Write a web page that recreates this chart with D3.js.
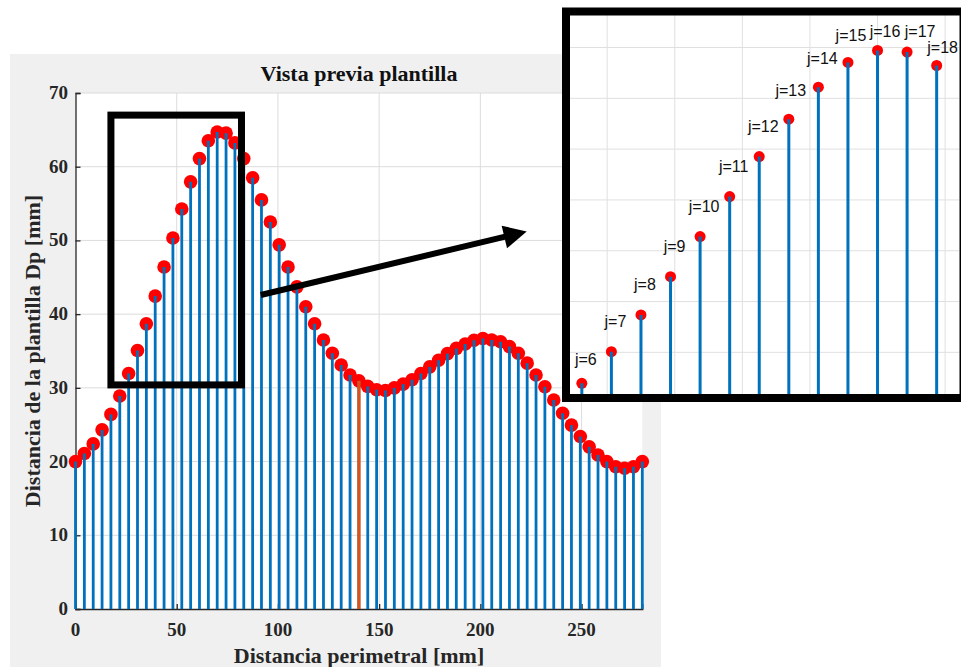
<!DOCTYPE html>
<html>
<head>
<meta charset="utf-8">
<script src="https://cdn.jsdelivr.net/npm/d3@7"></script>
<style>
	body { margin: 0; background: #fff; }
	svg { display: block; }
</style>
</head>
<body>
<div id="chart"></div>
<script>
// perimeter distance of each sample j (mm)
const distances = [0, 4.375, 8.75, 13.125, 17.5, 21.875, 26.25, 30.625, 35, 39.375, 43.75, 48.125, 52.5, 56.875, 61.25, 65.625, 70, 74.375, 78.75, 83.125, 87.5, 91.875, 96.25, 100.625, 105, 109.375, 113.75, 118.125, 122.5, 126.875, 131.25, 135.625, 140, 144.375, 148.75, 153.125, 157.5, 161.875, 166.25, 170.625, 175, 179.375, 183.75, 188.125, 192.5, 196.875, 201.25, 205.625, 210, 214.375, 218.75, 223.125, 227.5, 231.875, 236.25, 240.625, 245, 249.375, 253.75, 258.125, 262.5, 266.875, 271.25, 275.625, 280];
// Dp value at each sample (mm)
const dpValues = [20.0, 21.1, 22.4, 24.3, 26.4, 28.9, 31.95, 35.06, 38.68, 42.45, 46.39, 50.33, 54.27, 57.95, 61.1, 63.53, 64.71, 64.55, 63.23, 61.1, 58.5, 55.5, 52.5, 49.4, 46.4, 43.7, 41.0, 38.7, 36.5, 34.7, 33.1, 31.75, 30.95, 30.2, 29.75, 29.65, 30.0, 30.5, 31.1, 31.95, 32.85, 33.75, 34.65, 35.35, 35.95, 36.45, 36.7, 36.5, 36.25, 35.6, 34.7, 33.35, 31.75, 30.15, 28.35, 26.55, 24.95, 23.4, 22.0, 20.9, 20.0, 19.3, 19.1, 19.3, 20.0];
const highlightIndex = 32;

const xTicks = [0, 50, 100, 150, 200, 250];
const yTicks = [0, 10, 20, 30, 40, 50, 60, 70];
const insetXTicks = [30, 40, 50, 60, 70, 80];
const insetYTicks = [35, 40, 45, 50, 55, 60, 65];
const labelledJ = [6, 7, 8, 9, 10, 11, 12, 13, 14, 15, 16, 17, 18];

// zoom box on the main axes and the view shown in the inset (data units)
const zoomBoxX = [17.5, 82], zoomBoxY = [30.4, 67];
const insetViewX = [24.5, 82.1], insetViewY = [30.87, 68.2];
const arrowFrom = [91.5, 42.6], arrowTo = [222.9, 51.2];

const data = distances.map((d, j) => ({j, x: d, y: dpValues[j]}));

const width = 961, height = 667;
const serif = "'Liberation Serif', 'Times New Roman', serif";
const sans = "'Liberation Sans', Arial, sans-serif";
const textColor = "#262626";

const svg = d3.select("#chart")
	.append("svg")
		.attr("width", width)
		.attr("height", height);

// figure background
svg.append("rect")
	.attr("x", 10).attr("y", 54)
	.attr("width", 651).attr("height", 613)
	.attr("fill", "#f0f0f0");

const x = d3.scaleLinear().domain([0, 280]).range([75.5, 642.3]);
const y = d3.scaleLinear().domain([0, 70]).range([609, 93]);

const main = svg.append("g");

main.append("rect")
	.attr("x", x(0)).attr("y", y(70))
	.attr("width", x(280) - x(0)).attr("height", y(0) - y(70))
	.attr("fill", "#fff");

// grid
main.append("g")
	.selectAll("line")
	.data(xTicks.slice(1))
	.join("line")
		.attr("x1", d => x(d)).attr("x2", d => x(d))
		.attr("y1", y(0)).attr("y2", y(70))
		.attr("stroke", "#dcdcdc");
main.append("g")
	.selectAll("line")
	.data(yTicks.slice(1))
	.join("line")
		.attr("x1", x(0)).attr("x2", x(280))
		.attr("y1", d => y(d)).attr("y2", d => y(d))
		.attr("stroke", "#dcdcdc");

// axes, ticks pointing inwards
const xAxis = main.append("g")
	.attr("transform", `translate(0, ${y(0)})`)
	.call(d3.axisTop(x).tickValues(xTicks).tickSize(5).tickFormat(""));
const yAxis = main.append("g")
	.attr("transform", `translate(${x(0)}, 0)`)
	.call(d3.axisRight(y).tickValues(yTicks).tickSize(5).tickFormat(""));
[xAxis, yAxis].forEach(a => {
	a.select(".domain").attr("stroke", textColor).attr("stroke-width", 1.3);
	a.selectAll(".tick line").attr("stroke", textColor).attr("stroke-width", 1.3);
});

main.append("g")
	.selectAll("text")
	.data(xTicks)
	.join("text")
		.attr("x", d => x(d))
		.attr("y", 636)
		.attr("text-anchor", "middle")
		.style("font", `bold 19px ${serif}`)
		.attr("fill", textColor)
		.text(d => d);
main.append("g")
	.selectAll("text")
	.data(yTicks)
	.join("text")
		.attr("x", 68)
		.attr("y", d => y(d) + 6)
		.attr("text-anchor", "end")
		.style("font", `bold 19px ${serif}`)
		.attr("fill", textColor)
		.text(d => d);

// titles
main.append("text")
	.attr("x", 359).attr("y", 81)
	.attr("text-anchor", "middle")
	.style("font", `bold 22px ${serif}`)
	.attr("fill", "#111")
	.text("Vista previa plantilla");
main.append("text")
	.attr("x", 359).attr("y", 663)
	.attr("text-anchor", "middle")
	.style("font", `bold 22px ${serif}`)
	.attr("fill", textColor)
	.text("Distancia perimetral [mm]");
main.append("text")
	.attr("transform", `translate(40, ${(y(0) + y(70)) / 2}) rotate(-90)`)
	.attr("text-anchor", "middle")
	.style("font", `bold 22px ${serif}`)
	.attr("fill", textColor)
	.text("Distancia de la plantilla Dp [mm]");

drawStems(main, data, x, y, {r: 6.8, width: 2.8, highlight: true});

// zoom box + arrow
main.append("rect")
	.attr("x", x(zoomBoxX[0])).attr("y", y(zoomBoxY[1]))
	.attr("width", x(zoomBoxX[1]) - x(zoomBoxX[0]))
	.attr("height", y(zoomBoxY[0]) - y(zoomBoxY[1]))
	.attr("fill", "none")
	.attr("stroke", "#000")
	.attr("stroke-width", 7);

drawArrow(main, [x(arrowFrom[0]), y(arrowFrom[1])], [x(arrowTo[0]), y(arrowTo[1])]);

// inset
const xIn = d3.scaleLinear().domain(insetViewX).range([570, 959.3]);
const yIn = d3.scaleLinear().domain(insetViewY).range([394.3, 15]);

const inset = svg.append("g");
svg.append("clipPath")
	.attr("id", "inset-clip")
	.append("rect")
		.attr("x", xIn(insetViewX[0])).attr("y", yIn(insetViewY[1]))
		.attr("width", xIn(insetViewX[1]) - xIn(insetViewX[0]))
		.attr("height", yIn(insetViewY[0]) - yIn(insetViewY[1]));

inset.append("rect")
	.attr("x", xIn(insetViewX[0])).attr("y", yIn(insetViewY[1]))
	.attr("width", xIn(insetViewX[1]) - xIn(insetViewX[0]))
	.attr("height", yIn(insetViewY[0]) - yIn(insetViewY[1]))
	.attr("fill", "#fff");

const insetInner = inset.append("g").attr("clip-path", "url(#inset-clip)");
insetInner.append("g")
	.selectAll("line")
	.data(insetXTicks)
	.join("line")
		.attr("x1", d => xIn(d)).attr("x2", d => xIn(d))
		.attr("y1", yIn(insetViewY[0])).attr("y2", yIn(insetViewY[1]))
		.attr("stroke", "#e0e0e0");
insetInner.append("g")
	.selectAll("line")
	.data(insetYTicks)
	.join("line")
		.attr("x1", xIn(insetViewX[0])).attr("x2", xIn(insetViewX[1]))
		.attr("y1", d => yIn(d)).attr("y2", d => yIn(d))
		.attr("stroke", "#e0e0e0");

drawStems(insetInner, data.filter(d => d.x >= insetViewX[0] - 2 && d.x <= insetViewX[1] + 2), xIn, yIn, {r: 5.5, width: 3, highlight: false});

// j labels, a few nudged to sit clear of the frame
const labelNudge = {6: [0, 7], 13: [-2, 2], 14: [0, 2], 15: [-1, 4], 16: [3.5, 11.6], 17: [9, 10], 18: [2, 12.6]};
inset.append("g")
	.selectAll("text")
	.data(data.filter(d => labelledJ.includes(d.j)))
	.join("text")
		.attr("x", d => xIn(d.x) + 4 + (labelNudge[d.j] ? labelNudge[d.j][0] : 0))
		.attr("y", d => yIn(d.y) - 25 + (labelNudge[d.j] ? labelNudge[d.j][1] : 0))
		.attr("text-anchor", "middle")
		.style("font", `16px ${sans}`)
		.attr("fill", "#111")
		.text(d => `j=${d.j}`);

// thick frame
inset.append("rect")
	.attr("x", 566).attr("y", 11.5)
	.attr("width", 397.5).attr("height", 386.5)
	.attr("fill", "none")
	.attr("stroke", "#000")
	.attr("stroke-width", 8);

function drawStems(g, rows, xs, ys, {r, width, highlight}){
	// markers first, the stems run into them
	g.append("g")
		.selectAll("circle")
		.data(rows)
		.join("circle")
			.attr("cx", d => xs(d.x))
			.attr("cy", d => ys(d.y))
			.attr("r", r)
			.attr("fill", "#ff0000");

	g.append("g")
		.selectAll("line")
		.data(rows)
		.join("line")
			.attr("x1", d => xs(d.x)).attr("x2", d => xs(d.x))
			.attr("y1", ys(0) > ys.range()[0] ? ys.range()[0] : ys(0))
			.attr("y2", d => ys(d.y))
			.attr("stroke", "#0072bd")
			.attr("stroke-width", width);

	if(highlight){
		const h = rows.filter(d => d.j === highlightIndex);
		g.append("g")
			.selectAll("line")
			.data(h)
			.join("line")
				.attr("x1", d => xs(d.x)).attr("x2", d => xs(d.x))
				.attr("y1", ys(0))
				.attr("y2", d => ys(d.y))
				.attr("stroke", "#d95319")
				.attr("stroke-width", width + 0.4);
	}
}

function drawArrow(g, from, to){
	const dx = to[0] - from[0], dy = to[1] - from[1];
	const len = Math.hypot(dx, dy);
	const ux = dx / len, uy = dy / len;
	const headLen = 23, headHalf = 11.6;
	const back = [to[0] - ux * headLen, to[1] - uy * headLen];

	g.append("line")
		.attr("x1", from[0]).attr("y1", from[1])
		.attr("x2", back[0] + ux * 2).attr("y2", back[1] + uy * 2)
		.attr("stroke", "#000")
		.attr("stroke-width", 6);

	g.append("polygon")
		.attr("points", [
			to,
			[back[0] - uy * headHalf, back[1] + ux * headHalf],
			[back[0] + uy * headHalf, back[1] - ux * headHalf]
		].map(p => p.join(",")).join(" "))
		.attr("fill", "#000");
}
</script>
</body>
</html>
